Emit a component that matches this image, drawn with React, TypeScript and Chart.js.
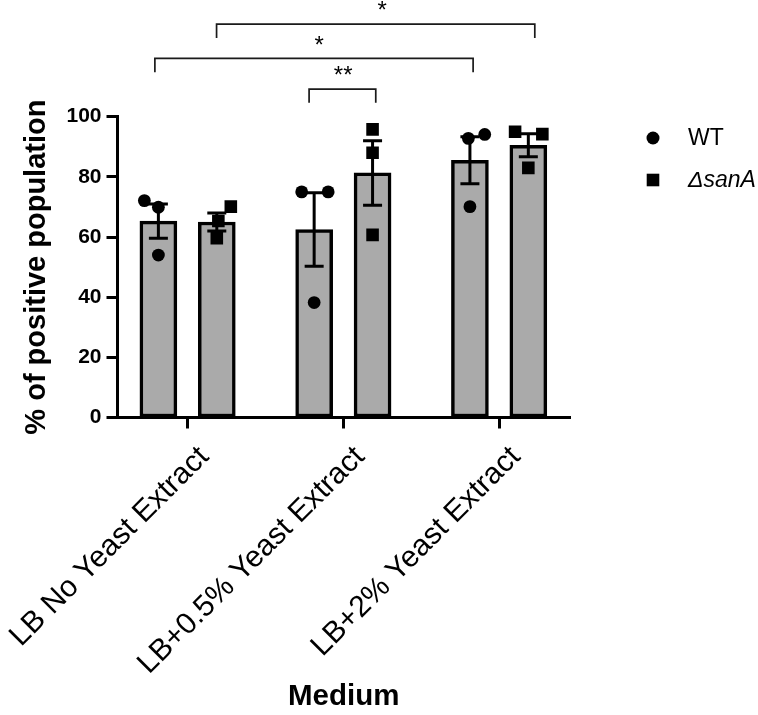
import React, { useEffect, useRef } from "react";
import { Chart, registerables } from "chart.js";

Chart.register(...registerables);

// ---- data ----
const categories = ["LB No Yeast Extract", "LB+0.5% Yeast Extract", "LB+2% Yeast Extract"];
const seriesNames = ["WT", "ΔsanA"];

const wtMean = [65.3, 62.5, 85.5];
const wtSem = [5.7, 12.2, 7.8];
const sanAMean = [65.0, 81.3, 90.5];
const sanASem = [3.0, 10.7, 3.8];

// replicate measurements per medium
const wtReplicates = [
  [72.1, 69.9, 54.0],
  [75.0, 75.0, 38.2],
  [92.8, 94.1, 70.1],
];
const sanAReplicates = [
  [70.1, 65.3, 59.6],
  [95.8, 88.0, 60.7],
  [95.0, 94.2, 83.0],
];

const yTicks = [0, 20, 40, 60, 80, 100];

// significance annotations (labels, compared bar spans in category units, levels in % units)
const sigLabels = ["*", "*", "**"];
const sigSpans = [
  [0.186, 2.229],
  [-0.21, 1.833],
  [0.78, 1.208],
];
const sigLevels = [130.8, 119.4, 109.2];

// ---- layout constants ----
const BAR_SHIFT = 0.1875; // bar centre offset from category centre
const CAP_HALF = 0.061; // half cap width in category units
const SIG_LEG = 4.6; // bracket leg length in % units
const SIG_TEXT_GAP = 6.5; // text centre above bracket in % units
const sigTextX = [1.249, 0.845, 0.999];
const wtJitter = [
  [-0.09, 0, 0],
  [-0.08, 0.09, 0],
  [-0.01, 0.095, 0],
];
const sanAJitter = [
  [0.09, 0.01, 0],
  [0, 0, 0],
  [-0.085, 0.09, 0],
];

const FONT = "'Liberation Sans', Arial, Helvetica, sans-serif";

const errorBarPlugin = {
  id: "errorBars",
  afterDatasetDraw(chart: any, args: any) {
    const ds = chart.data.datasets[args.index];
    if (!ds.errors) return;
    const { ctx } = chart;
    const x = chart.scales.x;
    const y = chart.scales.y;
    ctx.save();
    ctx.strokeStyle = "#000";
    ctx.lineWidth = 3;
    ds.data.forEach((d: any, i: number) => {
      const e = ds.errors[i];
      const px = x.getPixelForValue(d.x);
      const half = x.getPixelForValue(d.x + CAP_HALF) - px;
      const yt = y.getPixelForValue(d.y + e);
      const yb = y.getPixelForValue(d.y - e);
      ctx.beginPath();
      ctx.moveTo(px, yt);
      ctx.lineTo(px, yb);
      ctx.moveTo(px - half, yt);
      ctx.lineTo(px + half, yt);
      ctx.moveTo(px - half, yb);
      ctx.lineTo(px + half, yb);
      ctx.stroke();
    });
    ctx.restore();
  },
};

const significancePlugin = {
  id: "significance",
  afterDraw(chart: any) {
    const { ctx } = chart;
    const x = chart.scales.x;
    const y = chart.scales.y;
    ctx.save();
    ctx.strokeStyle = "#1a1a1a";
    ctx.lineWidth = 1.7;
    ctx.fillStyle = "#000";
    const size = 24;
    ctx.font = `${size}px ${FONT}`;
    ctx.textAlign = "center";
    ctx.textBaseline = "alphabetic";
    sigLabels.forEach((label, i) => {
      const [a, b] = sigSpans[i];
      const x1 = x.getPixelForValue(a);
      const x2 = x.getPixelForValue(b);
      const yl = y.getPixelForValue(sigLevels[i]);
      const yLeg = y.getPixelForValue(sigLevels[i] - SIG_LEG);
      ctx.beginPath();
      ctx.moveTo(x1, yLeg);
      ctx.lineTo(x1, yl);
      ctx.lineTo(x2, yl);
      ctx.lineTo(x2, yLeg);
      ctx.stroke();
      const ty = y.getPixelForValue(sigLevels[i] + SIG_TEXT_GAP);
      ctx.fillText(label, x.getPixelForValue(sigTextX[i]), ty + 0.58 * size);
    });
    ctx.restore();
  },
};

const legendPlugin = {
  id: "sideLegend",
  afterDraw(chart: any) {
    const { ctx } = chart;
    const rows = [138, 180];
    const markerX = 653;
    const textX = 688;
    ctx.save();
    ctx.fillStyle = "#000";
    ctx.textAlign = "left";
    ctx.textBaseline = "middle";
    chart.data.datasets
      .filter((ds: any) => ds.type === "scatter")
      .forEach((ds: any, i: number) => {
        const cy = rows[i];
        ctx.beginPath();
        if (ds.pointStyle === "circle") {
          ctx.arc(markerX, cy, 6.5, 0, Math.PI * 2);
        } else {
          ctx.rect(markerX - 6.3, cy - 6.3, 12.6, 12.6);
        }
        ctx.fill();
        ctx.font = `${i === 1 ? "italic " : ""}23px ${FONT}`;
        ctx.fillText(ds.label, textX, cy + 1);
      });
    ctx.restore();
  },
};

function barData(means: number[], shift: number) {
  return means.map((m, i) => ({ x: i + shift, y: m }));
}

function pointData(reps: number[][], jitter: number[][], shift: number) {
  const out: { x: number; y: number }[] = [];
  reps.forEach((vals, i) =>
    vals.forEach((v, k) => out.push({ x: i + shift + jitter[i][k], y: v }))
  );
  return out;
}

export default function App() {
  const ref = useRef<HTMLCanvasElement>(null);

  useEffect(() => {
    if (!ref.current) return;
    const barStyle = {
      type: "bar" as const,
      backgroundColor: "#aaaaaa",
      borderColor: "#000",
      borderWidth: 3.5,
      borderSkipped: false as const,
      barThickness: 37,
      grouped: false,
      order: 2,
    };
    const chart = new Chart(ref.current, {
      type: "bar",
      data: {
        datasets: [
          { ...barStyle, label: seriesNames[0] + " mean", data: barData(wtMean, -BAR_SHIFT), errors: wtSem } as any,
          { ...barStyle, label: seriesNames[1] + " mean", data: barData(sanAMean, BAR_SHIFT), errors: sanASem } as any,
          {
            type: "scatter",
            label: seriesNames[0],
            data: pointData(wtReplicates, wtJitter, -BAR_SHIFT),
            pointStyle: "circle",
            pointRadius: 6.4,
            backgroundColor: "#000",
            borderWidth: 0,
            order: 0,
          } as any,
          {
            type: "scatter",
            label: seriesNames[1],
            data: pointData(sanAReplicates, sanAJitter, BAR_SHIFT),
            pointStyle: "rect",
            pointRadius: 8.9,
            backgroundColor: "#000",
            borderWidth: 0,
            order: 0,
          } as any,
        ],
      },
      options: {
        animation: false,
        responsive: false,
        events: [],
        layout: { padding: { left: 0, top: 116.7, right: 188, bottom: 0 } },
        plugins: { legend: { display: false }, tooltip: { enabled: false } },
        scales: {
          x: {
            type: "linear",
            min: -0.45,
            max: 2.455,
            offset: false,
            afterBuildTicks: (s: any) => {
              s.ticks = categories.map((_, i) => ({ value: i }));
            },
            afterFit: (s: any) => {
              s.height = 715 - 417.5;
              s.paddingLeft = 0;
              s.paddingRight = 0;
            },
            grid: {
              offset: false,
              drawOnChartArea: false,
              drawTicks: true,
              tickLength: 11,
              tickWidth: 3,
              tickColor: "#000",
            },
            border: { display: true, color: "#000", width: 3 },
            ticks: {
              autoSkip: false,
              minRotation: 45,
              maxRotation: 45,
              padding: 11,
              labelOffset: 16.7,
              color: "#000",
              font: { family: FONT, size: 30 },
              callback: (v: any) => categories[v] ?? "",
            },
            title: {
              display: true,
              text: "Medium",
              color: "#000",
              font: { family: FONT, size: 29.5, weight: "bold" },
              padding: { top: -6, bottom: 0 },
            },
          },
          y: {
            min: 0,
            max: 100,
            afterBuildTicks: (s: any) => {
              s.ticks = yTicks.map((v) => ({ value: v }));
            },
            afterFit: (s: any) => {
              s.width = 117.5;
              s.paddingTop = 0;
              s.paddingBottom = 0;
            },
            grid: {
              drawOnChartArea: false,
              drawTicks: true,
              tickLength: 11,
              tickWidth: 3,
              tickColor: "#000",
            },
            border: { display: true, color: "#000", width: 3 },
            ticks: {
              padding: 5,
              color: "#000",
              font: { family: FONT, size: 21, weight: "bold" },
            },
            title: {
              display: true,
              text: "% of positive population",
              color: "#000",
              font: { family: FONT, size: 29, weight: "bold" },
              padding: { top: 19.8, bottom: 0 },
            },
          },
        },
      },
      plugins: [errorBarPlugin, significancePlugin, legendPlugin],
    } as any);
    return () => chart.destroy();
  }, []);

  return (
    <div style={{ position: "fixed", left: 0, top: 0, width: 758, height: 715, background: "#fff" }}>
      <canvas ref={ref} width={758} height={715} style={{ display: "block" }} />
    </div>
  );
}
